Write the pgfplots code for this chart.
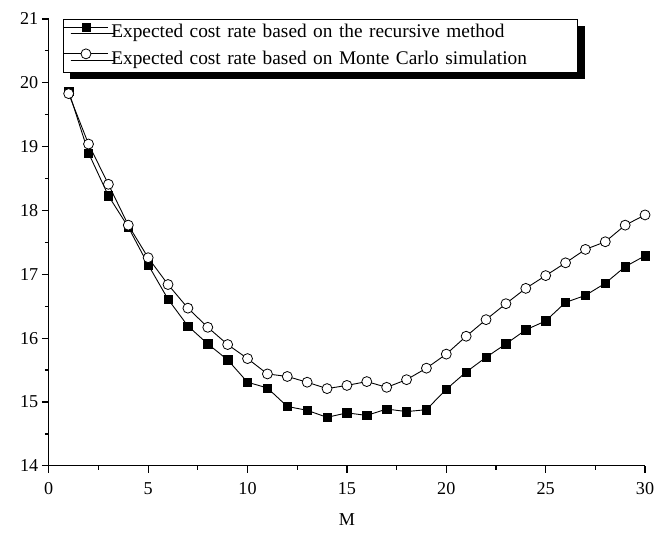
\documentclass[border=0pt]{standalone}
\usepackage{pgfplots}
\pgfplotsset{compat=1.18}
\usepackage{fontspec}
\setmainfont{Liberation Serif}
\usetikzlibrary{shadows}

\begin{document}
\begin{tikzpicture}
\path[use as bounding box] (-49bp,-70bp) rectangle (609bp,468bp);
\begin{axis}[
    width=599bp, height=449bp, scale only axis,
    xmin=0, xmax=30, ymin=14, ymax=21,
    axis lines=left,
    axis line style={-, line width=1.2bp},
    tick style={black, line width=1.2bp},
    tick align=outside,
    major tick length=7bp, minor tick length=4bp,
    xtick={0,5,...,30}, ytick={14,15,...,21},
    minor x tick num=1, minor y tick num=1,
    ticklabel style={font=\fontsize{18.3}{18.3}\selectfont},
    x tick label style={yshift=-6bp},
    /pgf/number format/assume math mode=true,
    xlabel={M},
    xlabel style={font=\fontsize{18.3}{18.3}\selectfont, yshift=-12bp},
    legend style={at={(0.0234,1)}, anchor=north west, draw=black,
        line width=0.8bp, fill=white,
        general shadow={fill=black, shadow xshift=7bp, shadow yshift=-7bp},
        font=\fontsize{19.5}{22}\selectfont,
        inner xsep=0bp, inner ysep=3.5bp, row sep=7bp,
        nodes={text width=466bp, align=left, inner xsep=2.5bp,
            inner ysep=0bp, text height=14bp, text depth=4bp}},
    legend cell align=left,
    legend image code/.code={\draw[mark repeat=2, mark phase=2]
        plot coordinates {(0bp,6bp) (22.5bp,6bp) (45bp,6bp)};},
]
\addplot[black, line width=0.9bp, mark=square*, mark size=4.2bp,
    mark options={solid, line width=0.5bp}] coordinates {
    (1,19.87) (2,18.90) (3,18.23) (4,17.74) (5,17.15)
    (6,16.61) (7,16.19) (8,15.91) (9,15.66) (10,15.31)
    (11,15.22) (12,14.93) (13,14.87) (14,14.76) (15,14.83)
    (16,14.79) (17,14.89) (18,14.85) (19,14.88) (20,15.20)
    (21,15.47) (22,15.70) (23,15.91) (24,16.13) (25,16.27)
    (26,16.56) (27,16.67) (28,16.86) (29,17.12) (30,17.29)
};
\addlegendentry{Expected cost rate based on the recursive method}
\addplot[black, line width=0.9bp, mark=*, mark size=5bp,
    mark options={solid, fill=white, line width=0.8bp}] coordinates {
    (1,19.83) (2,19.04) (3,18.41) (4,17.77) (5,17.26)
    (6,16.84) (7,16.47) (8,16.17) (9,15.90) (10,15.68)
    (11,15.44) (12,15.40) (13,15.31) (14,15.21) (15,15.26)
    (16,15.32) (17,15.23) (18,15.35) (19,15.53) (20,15.75)
    (21,16.03) (22,16.29) (23,16.54) (24,16.78) (25,16.98)
    (26,17.18) (27,17.39) (28,17.51) (29,17.77) (30,17.93)
};
\addlegendentry{Expected cost rate based on Monte Carlo simulation}
\end{axis}
\end{tikzpicture}
\end{document}
